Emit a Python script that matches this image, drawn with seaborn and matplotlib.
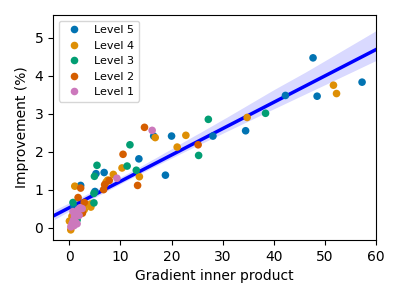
import pandas as pd
import matplotlib
matplotlib.use('Agg')
import matplotlib.pyplot as plt
import seaborn as sns

# values, one list per level
level5_x = [47.7, 57.3, 48.5, 42.3, 34.5, 28.1, 20.0, 16.5, 13.6, 18.8, 6.8, 5.2, 2.2, 5.0, 0.9]
level5_y = [4.47, 3.83, 3.46, 3.48, 2.55, 2.41, 2.41, 2.41, 1.81, 1.38, 1.45, 1.42, 1.11, 0.95, 0.55]

level4_x = [51.7, 52.3, 34.8, 22.8, 16.8, 21.1, 10.3, 8.6, 13.7, 7.5, 7.2, 1.05, 4.2, 3.2, 2.9, 4.2, 0.27, 0.0, 0.5]
level4_y = [3.75, 3.53, 2.90, 2.43, 2.37, 2.12, 1.57, 1.40, 1.34, 1.25, 1.20, 1.09, 0.62, 0.62, 0.47, 0.54, -0.06, 0.17, 0.30]

level3_x = [38.4, 27.2, 25.3, 11.85, 11.3, 13.1, 5.4, 4.9, 4.8, 4.8, 0.7, 1.5]
level3_y = [3.01, 2.85, 1.90, 2.18, 1.62, 1.51, 1.64, 1.35, 0.90, 0.65, 0.66, 0.20]

level2_x = [25.2, 14.7, 10.5, 13.35, 6.9, 7.8, 6.7, 2.2, 1.7, 2.9, 2.55, 0.4, 1.0]
level2_y = [2.18, 2.64, 1.93, 1.11, 1.13, 1.24, 1.00, 1.04, 0.79, 0.66, 0.38, 0.03, 0.25]

level1_x = [16.2, 9.3, 0.3, 0.5, 0.6, 0.8, 1.0, 1.3, 0.7, 1.7, 2.1, 1.2, 1.9, 2.5, 0.9, 1.5]
level1_y = [2.56, 1.30, 0.02, 0.08, 0.12, 0.20, 0.30, 0.38, 0.42, 0.47, 0.52, 0.15, 0.32, 0.50, 0.05, 0.10]

levels = ['Level 5', 'Level 4', 'Level 3', 'Level 2', 'Level 1']
xs = [level5_x, level4_x, level3_x, level2_x, level1_x]
ys = [level5_y, level4_y, level3_y, level2_y, level1_y]

rows = []
for lvl, lx, ly in zip(levels, xs, ys):
    for a, b in zip(lx, ly):
        rows.append({'x': a, 'y': b, 'level': lvl})
df = pd.DataFrame(rows)

fig, ax = plt.subplots(figsize=(3.99, 2.99), dpi=100)
sns.scatterplot(data=df, x='x', y='y', hue='level', hue_order=levels,
                palette='colorblind', s=30, linewidth=0, ax=ax, zorder=3)
sns.regplot(data=df, x='x', y='y', scatter=False, color='blue',
            line_kws={'linewidth': 2.5}, truncate=False, ax=ax)

ax.set_xlim(-3.2, 60)
ax.set_ylim(-0.33, 5.6)
ax.set_xticks([0, 10, 20, 30, 40, 50, 60])
ax.set_yticks([0, 1, 2, 3, 4, 5])
ax.set_xlabel('Gradient inner product')
ax.set_ylabel('Improvement (%)')
ax.legend(loc='upper left', fontsize=8)

plt.subplots_adjust(left=0.133, right=0.942, top=0.95, bottom=0.197)
plt.savefig('out.png', dpi=100)
